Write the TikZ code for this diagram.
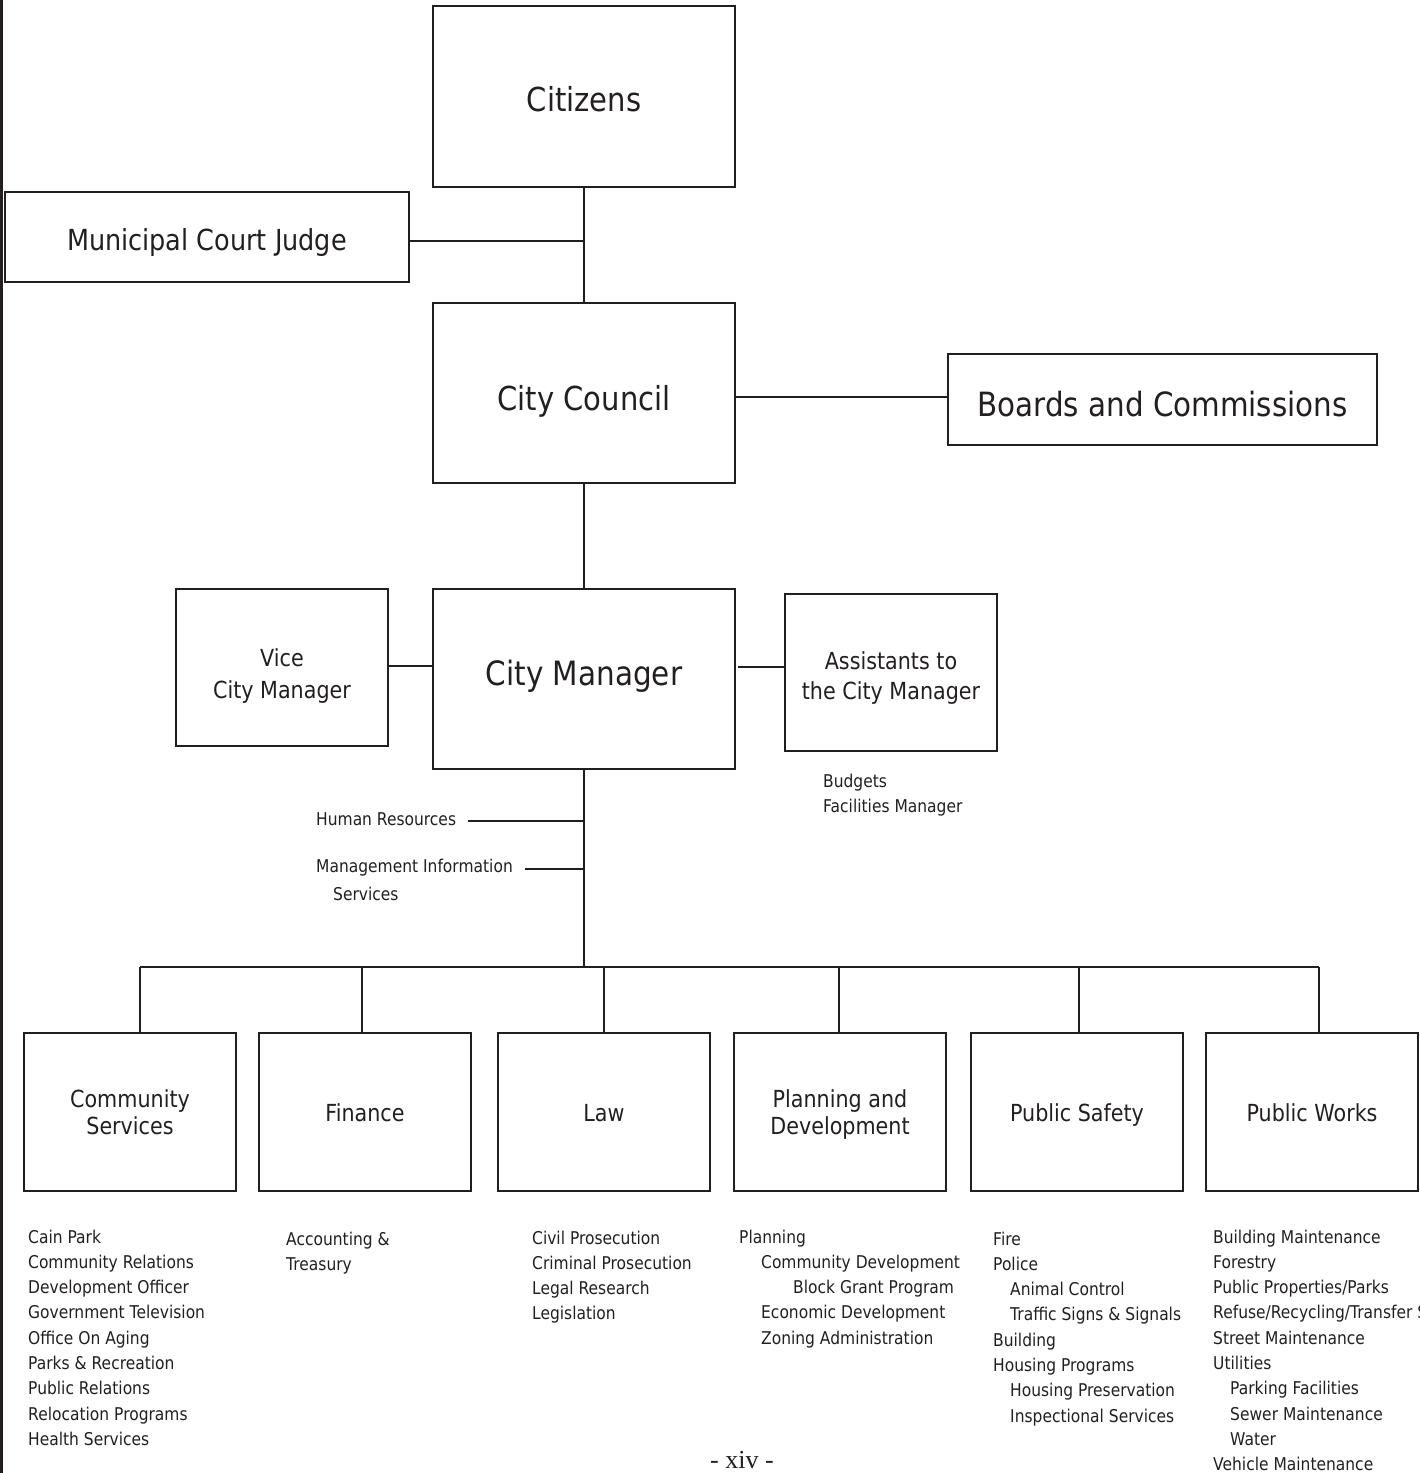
\documentclass[tikz,border=0pt]{standalone}
\usepackage{fontspec}
\setmainfont{DejaVu Sans}[FakeStretch=0.88]
\newfontfamily\pagefont{Liberation Serif}
\definecolor{ink}{RGB}{35,31,32}
\begin{document}
\begin{tikzpicture}[x=1pt,y=-1pt,
  box/.style={draw=ink, line width=2.8pt, inner sep=0pt},
  lbl/.style={text=ink, align=center, inner sep=0pt},
  conn/.style={draw=ink, line width=2.8pt},
  bigtxt/.style={font=\fontsize{33}{38}\selectfont},
  midtxt/.style={font=\fontsize{23.5}{30}\selectfont},
  lowtxt/.style={font=\fontsize{23.5}{27}\selectfont},
  item/.style={anchor=base west, inner sep=0pt, text=ink, font=\fontsize{17.6}{20}\selectfont},
  side/.style={anchor=west, inner sep=0pt, text=ink, font=\fontsize{17.6}{20}\selectfont}]
\useasboundingbox[fill=white] (0,0) rectangle (1420,1473);
\draw[ink, line width=3pt] (1.5,0) -- (1.5,1473);

% top boxes
\node[box,minimum width=302,minimum height=181,
  label={[lbl,bigtxt,yshift=-3pt]center:Citizens}] (cit) at (584,96.5) {};
\node[box,minimum width=404,minimum height=90,
  label={[lbl,font=\fontsize{29}{34}\selectfont,yshift=-5pt]center:Municipal Court Judge}] (mcj) at (207,237) {};
\node[box,minimum width=302,minimum height=180,
  label={[lbl,bigtxt,yshift=-8pt]center:City Council}] (cc) at (584,393) {};
\node[box,minimum width=429,minimum height=91,
  label={[lbl,font=\fontsize{33.4}{40}\selectfont,yshift=-5pt]center:Boards and Commissions}] (bc) at (1162.5,399.5) {};
\node[box,minimum width=302,minimum height=180,
  label={[lbl,font=\fontsize{33.5}{38}\selectfont,yshift=3pt]center:City Manager}] (cm) at (584,679) {};
\node[box,minimum width=212,minimum height=157,
  label={[lbl,font=\fontsize{23.5}{32}\selectfont,yshift=-9pt]center:Vice\\City Manager}] (vcm) at (282,667.5) {};
\node[box,minimum width=212,minimum height=157,
  label={[lbl,midtxt,yshift=-6pt]center:Assistants to\\the City Manager}] (acm) at (891,672.5) {};

\node[item] (bud) at (823,787) {Budgets};
\node[item] (fac) at (823,812) {Facilities Manager};

\draw[conn] (cit.south) -- (cc.north);
\draw[conn] ([yshift=-4pt]mcj.east) -- ([yshift=-4pt]mcj.east -| cit.south);
\draw[conn] ([yshift=2.5pt]bc.west) -- ([yshift=2.5pt]bc.west -| cc.east);
\draw[conn] (cc.south) -- (cm.north);
\draw[conn] ([yshift=1.5pt]vcm.east) -- ([yshift=1.5pt]vcm.east -| cm.west);
\draw[conn] ([yshift=5.5pt]acm.west) -- ([yshift=5.5pt,xshift=2pt]acm.west -| cm.east);

% staff functions
\node[side] (hr) at (316,819) {Human Resources};
\node[side] (mis) at (316,868) {Management Information};
\node[side] (mis2) at (333,894) {Services};
\coordinate (bus) at (584,967);
\draw[conn] (cm.south) -- (bus);
\draw[conn] ([xshift=12pt,yshift=-2pt]hr.east) -- ([yshift=-2pt]hr.east -| cm.south);
\draw[conn] ([xshift=12pt,yshift=-1pt]mis.east) -- ([yshift=-1pt]mis.east -| cm.south);

% departments
\node[box,minimum width=212,minimum height=158,
  label={[lbl,lowtxt]center:Community\\Services}] (cs) at (130,1112) {};
\node[box,minimum width=212,minimum height=158,
  label={[lbl,lowtxt,yshift=-1pt]center:Finance}] (fin) at (365,1112) {};
\node[box,minimum width=212,minimum height=158,
  label={[lbl,lowtxt,yshift=-1pt]center:Law}] (law) at (604,1112) {};
\node[box,minimum width=212,minimum height=158,
  label={[lbl,lowtxt,yshift=-3pt]center:Planning and\\Development}] (pd) at (840,1112) {};
\node[box,minimum width=212,minimum height=158,
  label={[lbl,lowtxt,yshift=-3pt]center:Public Safety}] (ps) at (1077,1112) {};
\node[box,minimum width=212,minimum height=158,
  label={[lbl,lowtxt,yshift=-1pt]center:Public Works}] (pw) at (1312,1112) {};

\coordinate (d1) at (140,967);
\coordinate (d2) at (362,967);
\coordinate (d3) at (604,967);
\coordinate (d4) at (839,967);
\coordinate (d5) at (1079,967);
\coordinate (d6) at (1319,967);
\draw[conn] (d1) -- (d6);
\draw[conn] (d1) -- (d1 |- cs.north);
\draw[conn] (d2) -- (d2 |- fin.north);
\draw[conn] (d3) -- (d3 |- law.north);
\draw[conn] (d4) -- (d4 |- pd.north);
\draw[conn] (d5) -- (d5 |- ps.north);
\draw[conn] (d6) -- (d6 |- pw.north);

% lists
\foreach \t [count=\i] in {Cain Park, Community Relations, Development Officer, Government Television, Office On Aging, Parks \& Recreation, Public Relations, Relocation Programs, Health Services}
  \node[item] (csl-\i) at (28,1243+25.3*\i-25.3) {\t};
\foreach \t [count=\i] in {Accounting \&, Treasury}
  \node[item] (finl-\i) at (286,1245+25.3*\i-25.3) {\t};
\foreach \t [count=\i] in {Civil Prosecution, Criminal Prosecution, Legal Research, Legislation}
  \node[item] (lawl-\i) at (532,1244+25.3*\i-25.3) {\t};
\foreach \d/\t [count=\i] in {0/Planning, 22/Community Development, 54/Block Grant Program, 22/Economic Development, 22/Zoning Administration}
  \node[item] (pdl-\i) at (739+\d,1243+25.3*\i-25.3) {\t};
\foreach \d/\t [count=\i] in {0/Fire, 0/Police, 17/Animal Control, 17/Traffic Signs \& Signals, 0/Building, 0/Housing Programs, 17/Housing Preservation, 17/Inspectional Services}
  \node[item] (psl-\i) at (993+\d,1245+25.3*\i-25.3) {\t};
\foreach \d/\t [count=\i] in {0/Building Maintenance, 0/Forestry, 0/{Public Properties/Parks}, 0/{Refuse/Recycling/Transfer S}, 0/Street Maintenance, 0/Utilities, 17/Parking Facilities, 17/Sewer Maintenance, 17/Water, 0/Vehicle Maintenance}
  \node[item] (pwl-\i) at (1213+\d,1243+25.3*\i-25.3) {\t};

\node[anchor=base, inner sep=0pt, text=ink, font=\pagefont\fontsize{26}{30}\selectfont] (pg) at (742,1468) {- xiv -};
\end{tikzpicture}
\end{document}
